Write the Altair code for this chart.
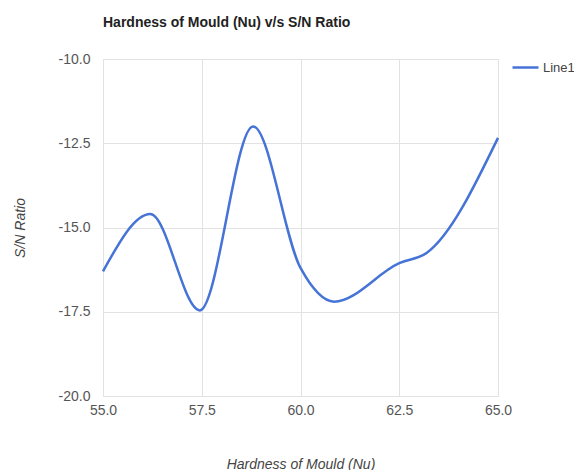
import altair as alt
import pandas as pd

hardness = [55.0, 56.2, 57.45, 58.8, 60.0, 60.85, 62.5, 63.2, 65.0]
sn_ratio = [-16.3, -14.6, -17.46, -12.0, -16.2, -17.2, -16.06, -15.75, -12.34]
series = ["Line1"] * len(hardness)

df = pd.DataFrame({"hardness": hardness, "sn": sn_ratio, "series": series})

FONT = "Liberation Sans"
HYPHEN_EXPR = "replace(datum.label, '\u2212', '-')"

chart = (
    alt.Chart(df)
    .mark_line(interpolate="monotone", strokeWidth=2.5)
    .encode(
        x=alt.X(
            "hardness:Q",
            scale=alt.Scale(domain=[55, 65], nice=False, zero=False),
            axis=alt.Axis(
                values=[55, 57.5, 60, 62.5, 65],
                format=".1f",
                title="Hardness of Mould (Nu)",
                titleFontStyle="italic",
                titleFontWeight="normal",
                titleFontSize=14,
                titleColor="#444444",
                titlePadding=40,
                labelFontSize=14,
                labelColor="#555555",
                labelPadding=7,
                labelFlush=False,
                ticks=False,
                domain=False,
                gridColor="#e2e2e2",
            ),
        ),
        y=alt.Y(
            "sn:Q",
            scale=alt.Scale(domain=[-20, -10], nice=False, zero=False),
            axis=alt.Axis(
                values=[-20, -17.5, -15, -12.5, -10],
                format=".1f",
                labelExpr=HYPHEN_EXPR,
                title="S/N Ratio",
                titleFontStyle="italic",
                titleFontWeight="normal",
                titleFontSize=14,
                titleColor="#444444",
                titlePadding=31,
                labelFontSize=14,
                labelColor="#555555",
                labelPadding=13,
                ticks=False,
                domain=False,
                gridColor="#e2e2e2",
            ),
        ),
        color=alt.Color(
            "series:N",
            scale=alt.Scale(range=["#4673d6"]),
            legend=alt.Legend(
                title=None,
                orient="none",
                legendX=408,
                legendY=-6,
                symbolType="stroke",
                symbolSize=676,
                symbolStrokeWidth=2.5,
                labelFontSize=13,
                labelColor="#444444",
                labelOffset=3,
                padding=0,
            ),
        ),
    )
    .properties(
        width=395,
        height=337,
        autosize=alt.AutoSizeParams(type="none"),
        padding={"left": 95, "top": 51, "right": 76, "bottom": 74},
        title=alt.TitleParams(
            "Hardness of Mould (Nu) v/s S/N Ratio",
            anchor="start",
            frame="group",
            fontSize=14,
            fontWeight="bold",
            color="#222222",
            offset=22,
        ),
    )
    .configure(font=FONT)
    .configure_view(stroke="#e2e2e2")
)

chart.save("out.html", embed_options={"renderer": "svg", "actions": False})
